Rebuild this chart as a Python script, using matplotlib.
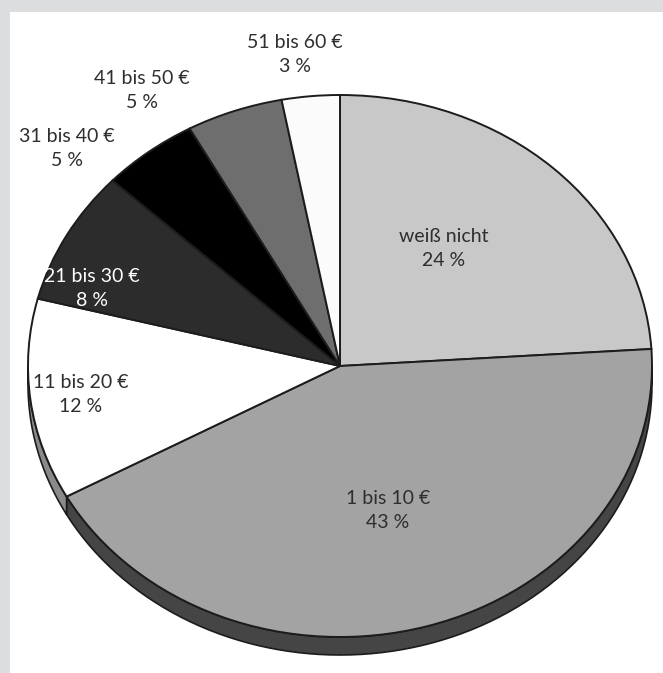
import matplotlib
matplotlib.use("Agg")
import matplotlib.pyplot as plt
import numpy as np
from matplotlib.patches import Polygon, Rectangle

# Monthly budget shares
categories = ["weiß nicht", "1 bis 10 €", "11 bis 20 €", "21 bis 30 €",
              "31 bis 40 €", "41 bis 50 €", "51 bis 60 €"]
shares = [24, 43, 12, 8, 5, 5, 3]

# Styling
face_colors = ["#c8c8c8", "#a3a3a3", "#ffffff", "#2c2c2c", "#000000", "#6e6e6e", "#fbfbfb"]
side_colors = ["#9a9a9a", "#454545", "#8a8a8a", "#1a1a1a", "#000000", "#4a4a4a", "#bbbbbb"]
text_colors = ["#2e2e2e", "#2e2e2e", "#2e2e2e", "#ffffff", "#2e2e2e", "#2e2e2e", "#2e2e2e"]
label_px = [(444, 249), (388, 510), (81, 395), (92, 289), (67, 148), (142, 91), (295, 55)]

W, H = 663, 673
CX, CY = 340, 366      # pie centre in pixels (from top-left)
RX, RY = 312, 271      # horizontal / vertical radius in pixels
DEPTH = 18             # thickness of the pie rim in pixels

plt.rcParams["font.family"] = ["Lato", "DejaVu Sans"]

fig = plt.figure(figsize=(W / 100, H / 100), dpi=100)
fig.patch.set_facecolor("#dcdddf")
fig.patches.append(Rectangle((10 / W, 0), 1, (H - 12) / H, transform=fig.transFigure,
                             facecolor="white", edgecolor="none", zorder=-10))

ax = fig.add_axes([0, 0, 1, 1])
ax.set_axis_off()

wedges, _ = ax.pie(shares, colors=face_colors, startangle=90, counterclock=False,
                   wedgeprops=dict(edgecolor="#1c1c1c", linewidth=1.4, zorder=3))
ax.set_aspect("auto")
ax.set_xlim(-CX / RX, (W - CX) / RX)
ax.set_ylim(-(H - CY) / RY, CY / RY)

# Rim of the pie: visible for the lower half of each wedge
d = DEPTH / RY
for w, sc in zip(wedges, side_colors):
    t1, t2 = w.theta1, w.theta2
    for k in (-360, 0, 360):
        lo, hi = max(t1, -180 + k), min(t2, 0 + k)
        if hi > lo:
            t = np.radians(np.linspace(lo, hi, 80))
            top = np.column_stack([np.cos(t), np.sin(t)])
            bot = np.column_stack([np.cos(t), np.sin(t) - d])[::-1]
            ax.add_patch(Polygon(np.vstack([top, bot]), closed=True, facecolor=sc,
                                 edgecolor="#1c1c1c", linewidth=1.2, zorder=2))

# Labels
for name, val, (px, py), tc in zip(categories, shares, label_px, text_colors):
    ax.text((px - CX) / RX, (CY - py) / RY, f"{name}\n{val} %", ha="center", va="center",
            fontsize=14, color=tc, linespacing=1.5, zorder=5)

fig.savefig("out.png", dpi=100)
